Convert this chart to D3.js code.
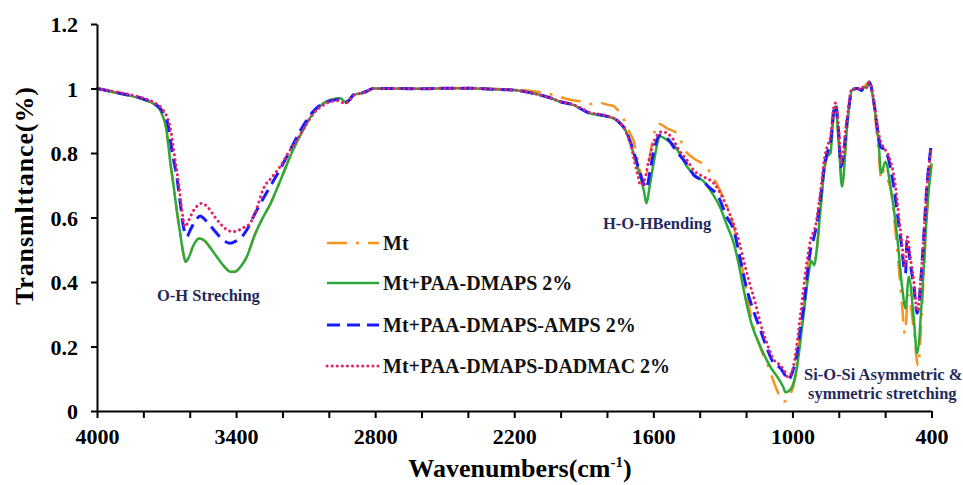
<!DOCTYPE html>
<meta charset="utf-8">
<style>
body { margin: 0; background: #fff; }
text { font-family: "Liberation Serif", "Times New Roman", serif; }
.axis .domain, .axis line { stroke: #000; stroke-width: 2; }
.axis text { font-size: 22px; font-weight: bold; fill: #000; font-family: "Liberation Serif", serif; }
.title { font-size: 26px; font-weight: bold; fill: #000; }
.note { font-size: 16.5px; font-weight: bold; fill: #1f2b5b; }
.legend text { font-size: 20px; font-weight: bold; fill: #111; }
</style>
<svg width="963" height="485"></svg>
<script src="https://d3js.org/d3.v7.min.js"></script>
<script>

// [wavenumber (cm-1), transmittance]
var mt = [[4000,1.000],[3900,0.984],[3800,0.966],[3750,0.950],[3721,0.923],[3700,0.870],[3685,0.778],[3670,0.700],[3656,0.623],[3640,0.545],[3628,0.490],[3618,0.463],[3605,0.475],[3585,0.512],[3560,0.535],[3540,0.530],[3510,0.505],[3480,0.475],[3450,0.447],[3425,0.432],[3405,0.432],[3380,0.448],[3354,0.478],[3320,0.545],[3282,0.603],[3250,0.645],[3232,0.675],[3200,0.730],[3167,0.789],[3130,0.845],[3095,0.892],[3060,0.930],[3023,0.954],[2990,0.965],[2951,0.970],[2930,0.959],[2910,0.965],[2894,0.980],[2860,0.985],[2836,0.990],[2809,1.000],[2700,1.000],[2600,0.999],[2500,1.001],[2400,1.002],[2300,0.999],[2204,0.997],[2100,0.990],[2032,0.980],[1960,0.965],[1900,0.958],[1870,0.952],[1840,0.957],[1800,0.950],[1773,0.946],[1750,0.930],[1730,0.908],[1700,0.860],[1686,0.840],[1671,0.789],[1652,0.730],[1637,0.700],[1622,0.760],[1600,0.850],[1580,0.892],[1540,0.876],[1498,0.861],[1460,0.805],[1426,0.784],[1368,0.753],[1340,0.722],[1300,0.665],[1282,0.634],[1253,0.570],[1210,0.420],[1181,0.300],[1140,0.200],[1100,0.130],[1067,0.065],[1038,0.029],[1010,0.050],[990,0.096],[970,0.220],[951,0.330],[935,0.440],[922,0.490],[905,0.465],[895,0.500],[879,0.630],[850,0.790],[836,0.800],[822,0.920],[814,0.945],[800,0.840],[786,0.710],[764,0.880],[743,0.995],[720,1.000],[700,0.995],[690,1.005],[668,1.020],[649,0.950],[628,0.800],[617,0.720],[605,0.745],[590,0.720],[577,0.690],[548,0.500],[527,0.330],[515,0.240],[500,0.360],[476,0.250],[458,0.140],[440,0.330],[419,0.620],[400,0.760]];

var dmaps = [[4000,1.000],[3900,0.984],[3800,0.966],[3750,0.950],[3721,0.923],[3700,0.870],[3685,0.778],[3670,0.700],[3656,0.623],[3640,0.545],[3628,0.490],[3618,0.463],[3605,0.475],[3585,0.512],[3560,0.535],[3540,0.530],[3510,0.505],[3480,0.475],[3450,0.447],[3425,0.432],[3405,0.432],[3380,0.448],[3354,0.478],[3320,0.545],[3282,0.603],[3250,0.645],[3232,0.675],[3200,0.730],[3167,0.789],[3130,0.845],[3095,0.892],[3060,0.930],[3023,0.954],[2990,0.965],[2951,0.970],[2930,0.959],[2910,0.965],[2894,0.980],[2860,0.985],[2836,0.990],[2809,1.000],[2700,1.000],[2600,0.999],[2500,1.001],[2400,1.001],[2300,0.998],[2200,0.995],[2120,0.985],[2050,0.972],[2001,0.959],[1945,0.949],[1900,0.932],[1872,0.923],[1840,0.918],[1786,0.911],[1765,0.905],[1743,0.892],[1720,0.870],[1699,0.830],[1675,0.775],[1656,0.727],[1640,0.680],[1630,0.644],[1615,0.700],[1599,0.768],[1570,0.851],[1540,0.840],[1512,0.825],[1480,0.790],[1455,0.758],[1420,0.730],[1383,0.712],[1350,0.680],[1311,0.630],[1282,0.575],[1253,0.520],[1230,0.450],[1210,0.375],[1181,0.282],[1138,0.199],[1095,0.137],[1052,0.091],[1040,0.075],[1030,0.058],[1015,0.062],[1001,0.075],[980,0.137],[965,0.220],[951,0.303],[935,0.400],[918,0.465],[905,0.452],[895,0.500],[879,0.623],[860,0.760],[850,0.789],[836,0.800],[822,0.923],[814,0.944],[800,0.830],[786,0.696],[764,0.882],[743,0.995],[720,1.000],[700,0.992],[693,1.005],[680,1.002],[668,1.021],[649,0.954],[628,0.830],[617,0.737],[599,0.773],[577,0.696],[548,0.541],[527,0.386],[512,0.318],[498,0.416],[476,0.282],[462,0.179],[440,0.365],[419,0.623],[400,0.768]];

var amps = [[4000,1.000],[3900,0.985],[3800,0.968],[3750,0.952],[3720,0.932],[3692,0.882],[3675,0.800],[3656,0.727],[3640,0.640],[3627,0.571],[3613,0.541],[3595,0.565],[3575,0.590],[3555,0.605],[3530,0.590],[3500,0.565],[3470,0.540],[3445,0.525],[3426,0.520],[3400,0.527],[3375,0.540],[3354,0.561],[3320,0.610],[3290,0.650],[3253,0.696],[3210,0.750],[3167,0.809],[3130,0.860],[3095,0.902],[3060,0.935],[3023,0.954],[2990,0.962],[2951,0.966],[2930,0.956],[2910,0.965],[2894,0.980],[2860,0.986],[2836,0.992],[2809,1.000],[2700,1.000],[2600,0.999],[2500,1.001],[2400,1.001],[2300,0.998],[2200,0.995],[2120,0.985],[2050,0.972],[2001,0.959],[1945,0.949],[1900,0.932],[1872,0.923],[1840,0.920],[1786,0.911],[1765,0.905],[1743,0.892],[1720,0.872],[1699,0.835],[1675,0.780],[1656,0.735],[1640,0.700],[1630,0.691],[1615,0.740],[1600,0.800],[1570,0.856],[1540,0.845],[1500,0.805],[1455,0.765],[1426,0.732],[1390,0.715],[1354,0.690],[1325,0.672],[1282,0.600],[1253,0.561],[1225,0.470],[1196,0.375],[1170,0.315],[1138,0.251],[1110,0.195],[1081,0.148],[1052,0.133],[1035,0.115],[1020,0.096],[1000,0.120],[980,0.179],[965,0.260],[951,0.323],[935,0.430],[922,0.500],[910,0.530],[895,0.580],[879,0.660],[860,0.770],[850,0.800],[836,0.830],[822,0.930],[814,0.950],[800,0.860],[790,0.757],[764,0.900],[743,0.995],[720,1.000],[700,0.995],[693,1.005],[680,1.002],[668,1.020],[649,0.960],[628,0.850],[620,0.820],[599,0.809],[570,0.727],[534,0.541],[512,0.427],[506,0.530],[490,0.450],[476,0.386],[462,0.303],[440,0.468],[419,0.706],[402,0.820]];

var dadmac = [[4000,1.000],[3900,0.987],[3800,0.970],[3750,0.955],[3720,0.938],[3685,0.882],[3663,0.778],[3645,0.690],[3634,0.623],[3620,0.571],[3605,0.590],[3585,0.620],[3560,0.640],[3548,0.644],[3520,0.630],[3490,0.600],[3460,0.575],[3435,0.560],[3412,0.556],[3390,0.560],[3365,0.570],[3340,0.582],[3310,0.630],[3282,0.690],[3245,0.725],[3210,0.758],[3175,0.800],[3138,0.840],[3100,0.885],[3066,0.923],[3030,0.945],[2994,0.959],[2960,0.962],[2930,0.954],[2910,0.963],[2894,0.978],[2860,0.986],[2836,0.992],[2809,1.000],[2700,1.000],[2600,0.999],[2500,1.001],[2400,1.001],[2300,0.998],[2200,0.995],[2120,0.985],[2050,0.972],[2001,0.960],[1945,0.950],[1900,0.935],[1872,0.925],[1840,0.921],[1786,0.912],[1765,0.906],[1743,0.893],[1720,0.868],[1699,0.830],[1680,0.770],[1665,0.725],[1656,0.700],[1640,0.712],[1620,0.775],[1595,0.840],[1563,0.866],[1520,0.848],[1490,0.810],[1455,0.778],[1426,0.747],[1380,0.725],[1340,0.707],[1300,0.660],[1272,0.614],[1240,0.550],[1190,0.410],[1160,0.335],[1138,0.273],[1110,0.210],[1081,0.160],[1050,0.140],[1035,0.125],[1020,0.106],[1000,0.125],[990,0.160],[965,0.300],[940,0.450],[922,0.530],[900,0.575],[879,0.680],[860,0.790],[850,0.820],[836,0.850],[822,0.940],[814,0.955],[800,0.870],[790,0.770],[764,0.910],[743,1.000],[720,1.000],[700,0.997],[693,1.008],[680,1.004],[668,1.020],[649,0.965],[628,0.860],[610,0.820],[590,0.800],[560,0.720],[534,0.560],[512,0.450],[505,0.540],[490,0.470],[476,0.400],[462,0.310],[440,0.470],[419,0.700],[402,0.810]];

var seriesNames = ["Mt", "Mt+PAA-DMAPS 2%", "Mt+PAA-DMAPS-AMPS 2%", "Mt+PAA-DMAPS-DADMAC 2%"];
var yTicks = [0, 0.2, 0.4, 0.6, 0.8, 1, 1.2];
var xLabelTicks = [4000, 3400, 2800, 2200, 1600, 1000, 400];

var styles = [
  {color: "#f7941d", dash: "20,9,3,9", width: 2.5, cap: "butt"},
  {color: "#2ea83a", dash: null, width: 2.5, cap: "butt"},
  {color: "#1a1aff", dash: "13,7", width: 3, cap: "butt"},
  {color: "#e2246a", dash: "0.1,5", width: 3, cap: "round"}
];

var svg = d3.select("svg");

var x = d3.scaleLinear().domain([4000, 400]).range([97, 931.5]);
var y = d3.scaleLinear().domain([0, 1.2]).range([411, 24]);

var line = d3.line()
    .x(function(d) { return x(d[0]); })
    .y(function(d) { return y(d[1]); })
    .curve(d3.curveMonotoneX);

var data = [mt, dmaps, amps, dadmac];

svg.append("g")
  .selectAll("path")
  .data(data)
  .enter().append("path")
    .attr("d", line)
    .attr("fill", "none")
    .attr("stroke", function(d, i) { return styles[i].color; })
    .attr("stroke-width", function(d, i) { return styles[i].width; })
    .attr("stroke-dasharray", function(d, i) { return styles[i].dash; })
    .attr("stroke-linecap", function(d, i) { return styles[i].cap; })
    .attr("stroke-linejoin", "round");

// axes
var xAxis = svg.append("g")
    .attr("class", "axis")
    .attr("transform", "translate(0,411)")
    .call(d3.axisBottom(x)
      .tickValues(d3.range(400, 4001, 200))
      .tickSize(7)
      .tickSizeOuter(0)
      .tickFormat(function(d) { return xLabelTicks.indexOf(d) >= 0 ? d : ""; }));
xAxis.selectAll("text").attr("y", 33).attr("dy", 0);

var yAxis = svg.append("g")
    .attr("class", "axis")
    .attr("transform", "translate(97,0)")
    .call(d3.axisLeft(y)
      .tickValues(yTicks)
      .tickSize(6)
      .tickSizeOuter(0)
      .tickPadding(13)
      .tickFormat(function(d) { return String(+d.toFixed(1)); }));
yAxis.selectAll("text").attr("dy", "0.36em");

// axis titles
var xt = svg.append("text")
    .attr("class", "title")
    .attr("x", 520)
    .attr("y", 477)
    .attr("text-anchor", "middle");
xt.append("tspan").text("Wavenumbers(cm");
xt.append("tspan").attr("font-size", 15).attr("dy", -10).text("-1");
xt.append("tspan").attr("dy", 10).text(")");

svg.append("text")
    .attr("class", "title")
    .attr("transform", "translate(33,196) rotate(-90)")
    .attr("text-anchor", "middle")
    .attr("textLength", 218)
    .attr("lengthAdjust", "spacing")
    .text("Transmlttance(%)");

// annotations
svg.append("text").attr("class", "note").attr("x", 157).attr("y", 301).text("O-H Streching");
svg.append("text").attr("class", "note").attr("x", 603).attr("y", 229).text("H-O-HBending");
svg.append("text").attr("class", "note").attr("x", 804).attr("y", 380).text("Si-O-Si Asymmetric &");
svg.append("text").attr("class", "note").attr("x", 808).attr("y", 399).text("symmetric stretching");

// legend
var legendY = [243, 283, 325, 366];
var legend = svg.append("g").attr("class", "legend");
var items = legend.selectAll("g")
  .data(seriesNames)
  .enter().append("g")
    .attr("transform", function(d, i) { return "translate(327," + legendY[i] + ")"; });
items.append("line")
    .attr("x1", 0).attr("x2", 52)
    .attr("stroke", function(d, i) { return styles[i].color; })
    .attr("stroke-width", function(d, i) { return styles[i].width; })
    .attr("stroke-dasharray", function(d, i) { return styles[i].dash; })
    .attr("stroke-linecap", function(d, i) { return styles[i].cap; });
items.append("text")
    .attr("x", 56)
    .attr("y", 7)
    .text(function(d) { return d; });

</script>
